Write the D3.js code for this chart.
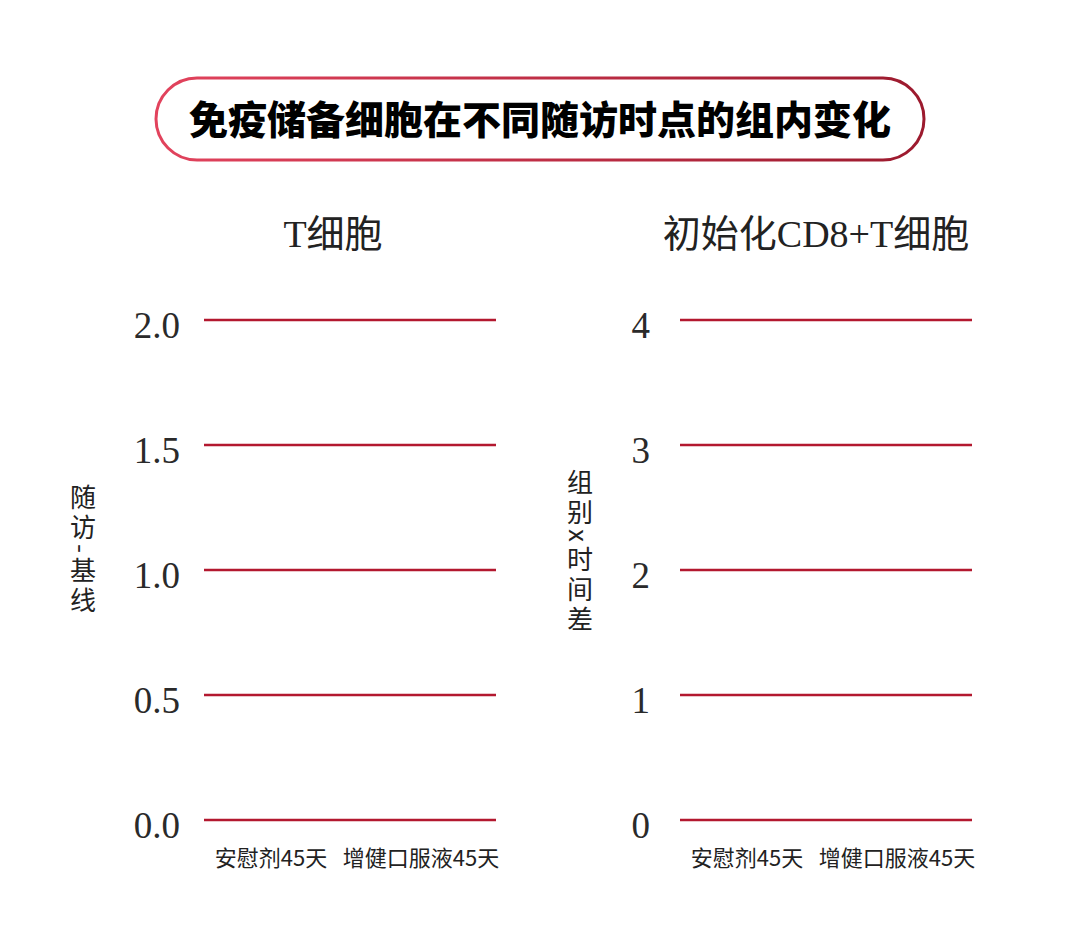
<!DOCTYPE html>
<html>
<head>
<meta charset="utf-8">
<script src="https://cdn.jsdelivr.net/npm/d3@7"></script>
<style>
  body { margin: 0; background: #fff; }
  svg { display: block; }
</style>
</head>
<body>
<svg id="chart" width="1080" height="947"></svg>
<script>
// data (no visible bars, so the values are zero)
var chartTitle = "免疫储备细胞在不同随访时点的组内变化";
var panelTitles = ["T细胞", "初始化CD8+T细胞"];
var axisTitles = ["随访-基线", "组别x时间差"];
var categories = ["安慰剂45天", "增健口服液45天"];
var tcellValues = [0, 0];
var cd8Values = [0, 0];
var tcellTicks = [0, 0.5, 1.0, 1.5, 2.0];
var cd8Ticks = [0, 1, 2, 3, 4];

var svg = d3.select("#chart");
var gridColor = "#b3182f";
var serif = "'Liberation Serif', 'Noto Sans CJK SC', serif";
var cjk = "'Noto Sans CJK SC', sans-serif";

// title pill
var defs = svg.append("defs");
var grad = defs.append("linearGradient").attr("id", "pillGrad")
        .attr("x1", "0%").attr("x2", "100%");
grad.append("stop").attr("offset", "0%").attr("stop-color", "#e2435d");
grad.append("stop").attr("offset", "100%").attr("stop-color", "#9c1a2e");

svg.append("rect")
        .attr("x", 156).attr("y", 78)
        .attr("width", 768).attr("height", 82)
        .attr("rx", 41).attr("ry", 41)
        .attr("fill", "#fff")
        .attr("stroke", "url(#pillGrad)")
        .attr("stroke-width", 3);

svg.append("text")
        .attr("x", 540).attr("y", 134)
        .attr("text-anchor", "middle")
        .style("font-family", cjk)
        .style("font-weight", 900)
        .style("font-size", "39px")
        .attr("fill", "#000")
        .text(chartTitle);

var panels = [
    {left: 204, right: 496, title: panelTitles[0], titleX: 333, axisTitle: axisTitles[0], values: tcellValues,
        ticks: tcellTicks, domain: [0, 2], fmt: d3.format(".1f"), labelX: 180, axisX: 83, axisY: 484},
    {left: 680, right: 972, title: panelTitles[1], titleX: 816, axisTitle: axisTitles[1], values: cd8Values,
        ticks: cd8Ticks, domain: [0, 4], fmt: d3.format("d"), labelX: 650, axisX: 580, axisY: 469}
];

panels.forEach(function (p) {
    var g = svg.append("g");

    var y = d3.scaleLinear()
            .domain(p.domain)
            .range([820, 320]);

    var x = d3.scaleBand()
            .domain(categories)
            .range([p.left - 8, p.right])
            .padding(0);

    // panel title
    g.append("text")
            .attr("x", p.titleX)
            .attr("y", 247)
            .attr("text-anchor", "middle")
            .style("font-family", serif)
            .style("font-size", "38px")
            .attr("fill", "#222")
            .text(p.title);

    // gridlines
    g.selectAll("line.grid")
            .data(p.ticks)
            .enter().append("line")
            .attr("class", "grid")
            .attr("x1", p.left).attr("x2", p.right)
            .attr("y1", function (d) { return y(d); })
            .attr("y2", function (d) { return y(d); })
            .attr("stroke", gridColor)
            .attr("stroke-width", 2.4);

    // y tick labels
    var yAxis = g.append("g")
            .attr("transform", "translate(" + p.labelX + ",0)")
            .call(d3.axisLeft(y).tickValues(p.ticks).tickFormat(p.fmt).tickSize(0).tickPadding(0));
    yAxis.select(".domain").remove();
    yAxis.selectAll("text")
            .style("font-family", serif)
            .style("font-size", "37px")
            .attr("fill", "#2a2a2a")
            .attr("dy", "0.47em");

    // bars (zero height)
    g.selectAll("rect.bar")
            .data(p.values)
            .enter().append("rect")
            .attr("class", "bar")
            .attr("x", function (d, i) { return x(categories[i]) + x.bandwidth() * 0.15; })
            .attr("width", x.bandwidth() * 0.7)
            .attr("y", function (d) { return y(Math.max(0, d)); })
            .attr("height", function (d) { return Math.abs(y(d) - y(0)); })
            .attr("fill", gridColor);

    // category labels
    var xAxis = g.append("g")
            .attr("transform", "translate(0,820)")
            .call(d3.axisBottom(x).tickSize(0).tickPadding(0));
    xAxis.select(".domain").remove();
    xAxis.selectAll("text")
            .attr("y", 46)
            .attr("dy", 0)
            .style("font-family", cjk)
            .style("font-size", "22px")
            .attr("fill", "#222");

    // vertical axis title
    g.append("text")
            .attr("x", p.axisX)
            .attr("y", p.axisY)
            .style("writing-mode", "vertical-rl")
            .style("font-family", cjk)
            .style("font-size", "26px")
            .style("letter-spacing", "4px")
            .attr("fill", "#222")
            .text(p.axisTitle);
});
</script>
</body>
</html>
